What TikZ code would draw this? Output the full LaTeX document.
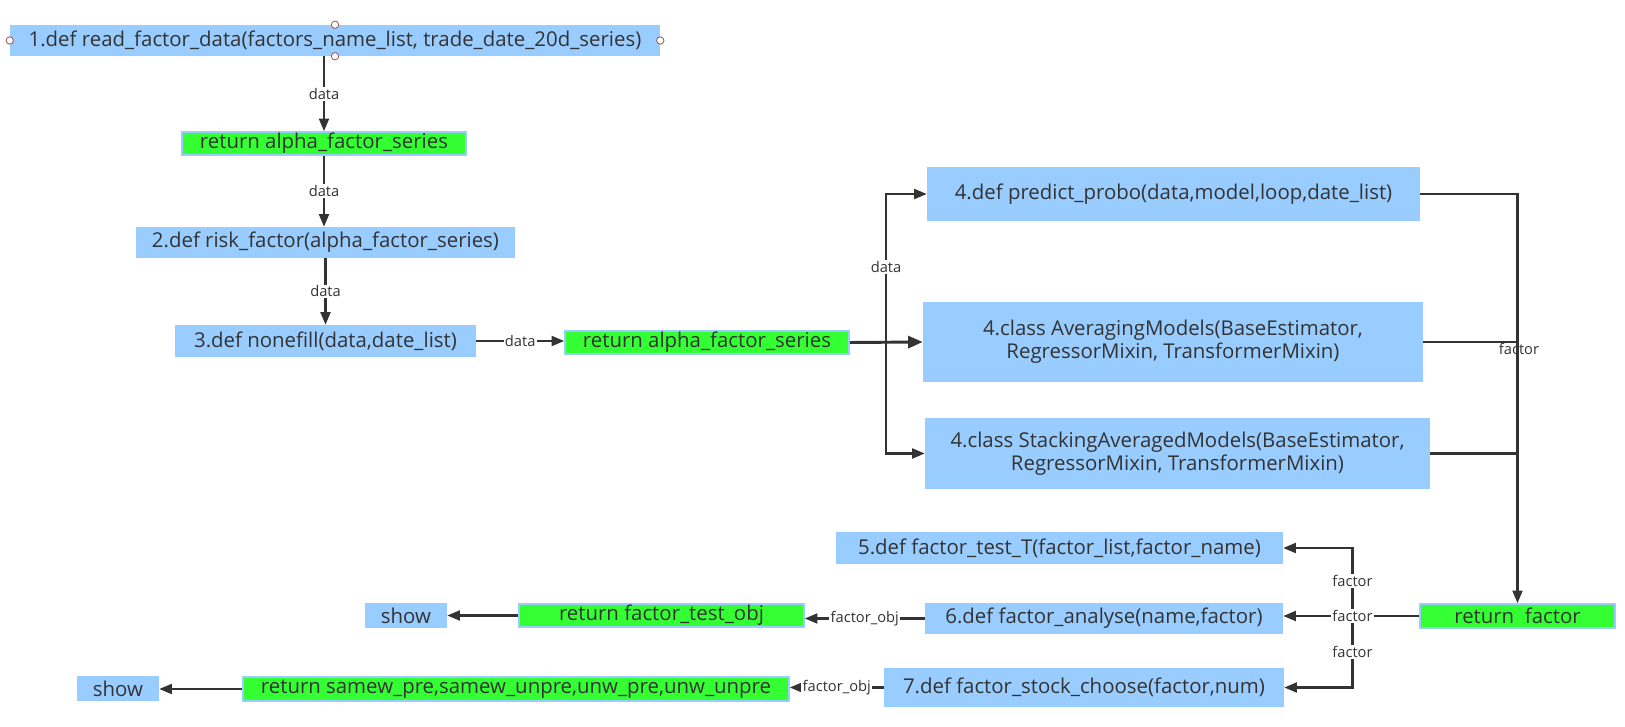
\documentclass[tikz,border=0pt]{standalone}
\usepackage{fontspec}
\setmainfont{Open Sans}
\usetikzlibrary{arrows.meta,calc}
\definecolor{cblue}{HTML}{99CCFF}
\definecolor{cgreen}{HTML}{33FF33}
\definecolor{cline}{HTML}{333333}
\definecolor{ctext}{HTML}{333333}
\definecolor{chandle}{HTML}{A0504A}
\begin{document}
\begin{tikzpicture}[x=0.75pt,y=-0.75pt,
  bluebox/.style={fill=cblue,draw=none,inner sep=0pt,text=ctext,font=\fontsize{15.3}{17}\selectfont,align=center},
  greenbox/.style={fill=cgreen,draw=cblue,line width=1.2pt,inner sep=0pt,text=ctext,font=\fontsize{15.3}{17}\selectfont},
  conn/.style={draw=cline,line width=1.6pt,-{Triangle[length=9.5pt,width=7.5pt]}},
  bigconn/.style={draw=cline,line width=2.2pt,-{Triangle[length=11pt,width=9pt]}},
  plain/.style={draw=cline,line width=1.6pt},
  lbl/.style={fill=white,inner sep=1pt,text=ctext,font=\fontsize{11}{13}\selectfont},
  lblnf/.style={inner sep=1pt,text=ctext,font=\fontsize{11}{13}\selectfont},
  handle/.style={circle,draw=chandle,fill=white,line width=0.6pt,inner sep=0pt,minimum size=5.5pt}]
\useasboundingbox (0,0) rectangle (1625,727);
\fill[white] (0,0) rectangle (1625,727);

% nodes
\node[bluebox,minimum width=487.5pt,minimum height=23.25pt] (n1) at (335,40.5) {1.def read\_factor\_data(factors\_name\_list, trade\_date\_20d\_series)};
\node[greenbox,minimum width=213pt,minimum height=17.25pt] (g1) at (324,143.5) {return alpha\_factor\_series};
\node[bluebox,minimum width=284.25pt,minimum height=23.25pt] (n2) at (325.5,242.5) {2.def risk\_factor(alpha\_factor\_series)};
\node[bluebox,minimum width=225.75pt,minimum height=24pt] (n3) at (325.5,341) {3.def nonefill(data,date\_list)};
\node[greenbox,minimum width=213pt,minimum height=17.25pt] (g2) at (707,342.5) {return alpha\_factor\_series};
\node[bluebox,minimum width=369.75pt,minimum height=40.5pt] (n4a) at (1173.5,194) {4.def predict\_probo(data,model,loop,date\_list)};
\node[bluebox,minimum width=375pt,minimum height=60pt] (n4b) at (1173,342) {4.class AveragingModels(BaseEstimator,\\RegressorMixin, TransformerMixin)};
\node[bluebox,minimum width=378.75pt,minimum height=53.25pt] (n4c) at (1177.5,453.5) {4.class StackingAveragedModels(BaseEstimator,\\RegressorMixin, TransformerMixin)};
\node[bluebox,minimum width=335.25pt,minimum height=24pt] (n5) at (1059.5,548) {5.def factor\_test\_T(factor\_list,factor\_name)};
\node[bluebox,minimum width=268.5pt,minimum height=23.25pt] (n6) at (1104,618.5) {6.def factor\_analyse(name,factor)};
\node[bluebox,minimum width=300pt,minimum height=29.25pt] (n7) at (1084,687.5) {7.def factor\_stock\_choose(factor,num)};
\node[greenbox,minimum width=146.25pt,minimum height=18pt] (rf) at (1517.5,616) {return~~factor};
\node[greenbox,minimum width=213.75pt,minimum height=17.25pt] (rto) at (661.5,615.5) {return factor\_test\_obj};
\node[bluebox,minimum width=61.5pt,minimum height=18.75pt] (s1) at (406,615.5) {show};
\node[greenbox,minimum width=409.5pt,minimum height=18pt] (rs) at (516,689) {return samew\_pre,samew\_unpre,unw\_pre,unw\_unpre};
\node[bluebox,minimum width=61.5pt,minimum height=18.75pt] (s2) at (118,688.5) {show};

% selection handles on node 1
\node[handle] (h1) at (n1.west) {};
\node[handle] (h2) at (n1.east) {};
\node[handle] (h3) at (n1.north) {};
\node[handle] (h4) at (n1.south) {};

% left column
\draw[conn] (g1.north |- n1.south) -- node[lbl] {data} (g1.north);
\draw[conn] (g1.south) -- node[lbl] {data} (g1.south |- n2.north);
\draw[conn] (n2.south) -- node[lbl] {data} (n3.north);
\draw[conn] (n3.east) -- node[lbl] {data} (g2.west |- n3.east);

% fan out
\coordinate (br) at (886,342.5);
\draw[bigconn] (g2.east) -- (n4b.west);
\draw[conn] (br) |- (n4a.west);
\draw[conn] (br) |- (n4c.west);
\node[lbl] (ld) at (886,267) {data};

% fan in
\draw[conn] (n4a.east) -| (rf.north);
\draw[plain] (n4b.east) -- (rf.north |- n4b.east);
\draw[plain] (n4c.east) -- (rf.north |- n4c.east);
\node[lblnf] (lf) at (1519,349) {factor};

% factor distribution
\coordinate (b2) at (1352.5,616);
\draw[conn] (rf.west) -- (n6.east |- rf.west);
\draw[conn] (b2) |- node[lbl,pos=0.26] {factor} (n5.east);
\draw[conn] (b2) |- node[lbl,pos=0.25] {factor} (n7.east);
\node[lbl] (lf2) at (1352.5,616) {factor};

% outputs
\draw[conn] (n6.west) -- node[lbl] {factor\_obj} (rto.east |- n6.west);
\draw[conn] (rto.west) -- (s1.east);
\draw[conn] (n7.west) -- node[lbl] {factor\_obj} (rs.east |- n7.west);
\draw[conn] (rs.west) -- (s2.east |- rs.west);
\end{tikzpicture}
\end{document}
